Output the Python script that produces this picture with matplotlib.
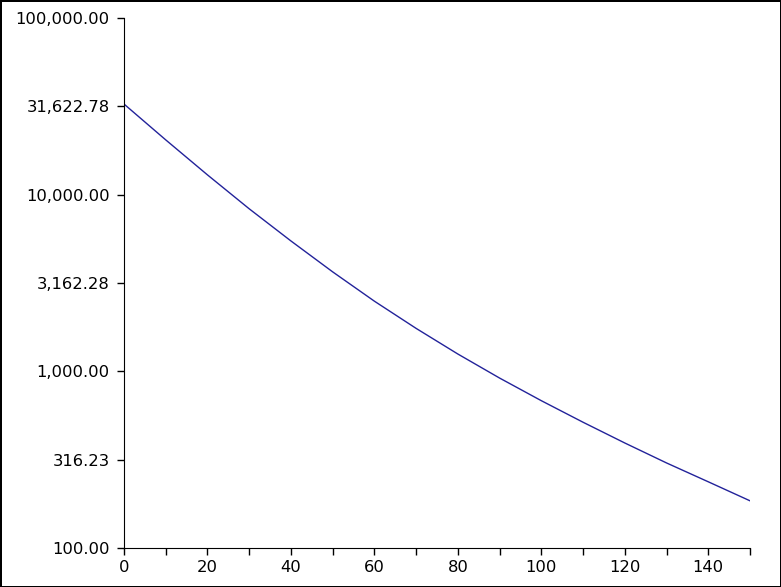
import numpy as np
import matplotlib.pyplot as plt
from matplotlib.ticker import FixedLocator, MultipleLocator, FuncFormatter

# values (log scale)
x_vals = [0, 10, 20, 30, 40, 50, 60, 70, 80, 90, 100, 110, 120, 130, 140, 150]
y_vals = [32580, 20420, 12940, 8318, 5470, 3656, 2495, 1750, 1253, 916,
          682, 515, 393, 303, 237, 185]
y_ticks = [10 ** 2, 10 ** 2.5, 10 ** 3, 10 ** 3.5, 10 ** 4, 10 ** 4.5, 10 ** 5]

fig = plt.figure(figsize=(7.81, 5.87), dpi=100)
fig.patch.set_edgecolor('black')
fig.patch.set_linewidth(2)
ax = fig.add_axes([124 / 781, 39 / 587, 626 / 781, 530 / 587])

ax.plot(x_vals, y_vals, color='#22229a', linewidth=1)

ax.set_yscale('log')
ax.set_ylim(100, 100000)
ax.set_xlim(0, 150)
ax.yaxis.set_major_locator(FixedLocator(y_ticks))
ax.yaxis.set_minor_locator(FixedLocator([]))
ax.yaxis.set_major_formatter(FuncFormatter(lambda v, p: '{:,.2f}'.format(v)))
ax.xaxis.set_major_locator(MultipleLocator(20))
ax.xaxis.set_minor_locator(MultipleLocator(10))

for side in ['top', 'right']:
    ax.spines[side].set_visible(False)
ax.tick_params(which='both', direction='out', length=5, width=1,
               labelsize=11.8)
ax.tick_params(axis='y', pad=5.5)
ax.tick_params(axis='x', pad=4)

fig.savefig('out.png', dpi=100, edgecolor=fig.get_edgecolor())
